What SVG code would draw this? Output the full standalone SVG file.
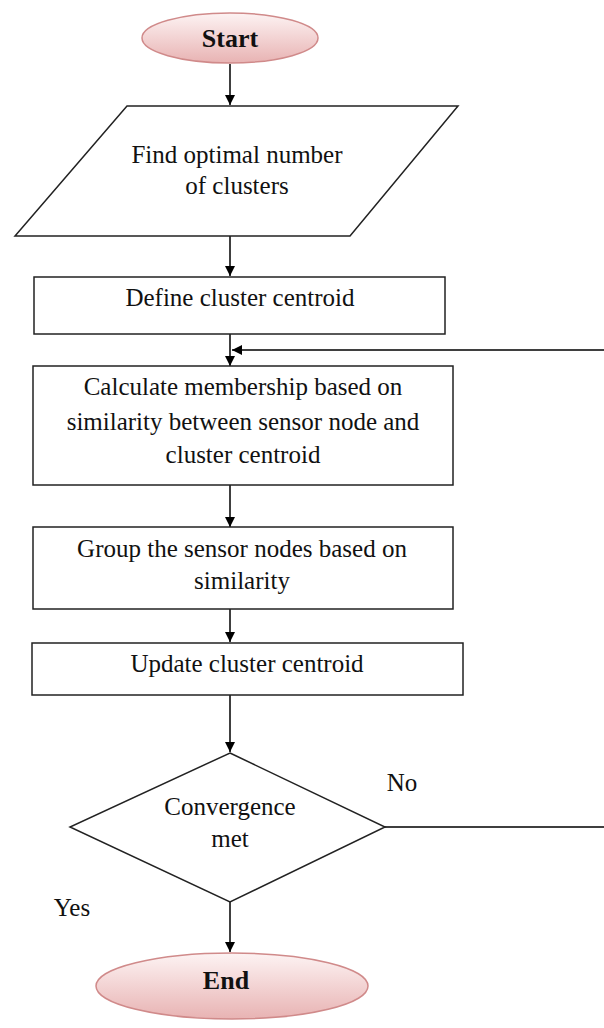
<svg xmlns="http://www.w3.org/2000/svg" width="604" height="1028" viewBox="0 0 604 1028">
<defs>
<linearGradient id="pink" x1="0" y1="0" x2="0" y2="1">
<stop offset="0" stop-color="#fdf3f3"/>
<stop offset="1" stop-color="#e8b3b3"/>
</linearGradient>
<marker id="arr" viewBox="0 0 10 10" refX="10" refY="5" markerWidth="10" markerHeight="10" markerUnits="userSpaceOnUse" orient="auto">
<path d="M0,0 L10,5 L0,10 Z" fill="#000"/>
</marker>
</defs>
<style>
.t{font-family:"Liberation Serif","Times New Roman",serif;font-size:25px;fill:#111;text-anchor:middle}
.b{font-weight:bold;font-size:26px}
.box{fill:#fff;stroke:#222;stroke-width:1.5}
.term{fill:url(#pink);stroke:#d08a8a;stroke-width:1.5}
.c{fill:none;stroke:#000;stroke-width:1.5}
</style>
<g id="connectors">
<path class="c" d="M230,64 V105" marker-end="url(#arr)"/>
<path class="c" d="M230,236 V276" marker-end="url(#arr)"/>
<path class="c" d="M230,334 V366" marker-end="url(#arr)"/>
<path class="c" d="M230,485 V527" marker-end="url(#arr)"/>
<path class="c" d="M230,609 V642" marker-end="url(#arr)"/>
<path class="c" d="M230,695 V752" marker-end="url(#arr)"/>
<path class="c" d="M230,902 V952" marker-end="url(#arr)"/>
<path class="c" d="M385,827 H606 V350 H232" marker-end="url(#arr)"/>
</g>
<g id="start">
<ellipse class="term" cx="230" cy="38" rx="88" ry="25"/>
<text class="t b" x="230" y="47">Start</text>
</g>
<g id="find">
<polygon class="box" points="127,106 458,106 350,236 15,236"/>
<text class="t" x="237" y="163">Find optimal number</text>
<text class="t" x="237" y="194">of clusters</text>
</g>
<g id="define">
<rect class="box" x="34" y="277" width="411" height="57"/>
<text class="t" x="240" y="306">Define cluster centroid</text>
</g>
<g id="calc">
<rect class="box" x="33" y="366" width="420" height="119"/>
<text class="t" x="243" y="395">Calculate membership based on</text>
<text class="t" x="243" y="430">similarity between  sensor node and</text>
<text class="t" x="243" y="463">cluster centroid</text>
</g>
<g id="group">
<rect class="box" x="33" y="527" width="420" height="82"/>
<text class="t" x="242" y="557">Group the sensor nodes based on</text>
<text class="t" x="242" y="589">similarity</text>
</g>
<g id="update">
<rect class="box" x="32" y="643" width="431" height="52"/>
<text class="t" x="247" y="672">Update cluster centroid</text>
</g>
<g id="converge">
<polygon class="box" points="230,753 385,827 230,902 70,827"/>
<text class="t" x="230" y="815">Convergence</text>
<text class="t" x="230" y="847">met</text>
</g>
<g id="labels">
<text class="t" x="402" y="791">No</text>
<text class="t" x="72" y="916">Yes</text>
</g>
<g id="end">
<ellipse class="term" cx="232" cy="986" rx="136" ry="33"/>
<text class="t b" x="226" y="989">End</text>
</g>
</svg>
